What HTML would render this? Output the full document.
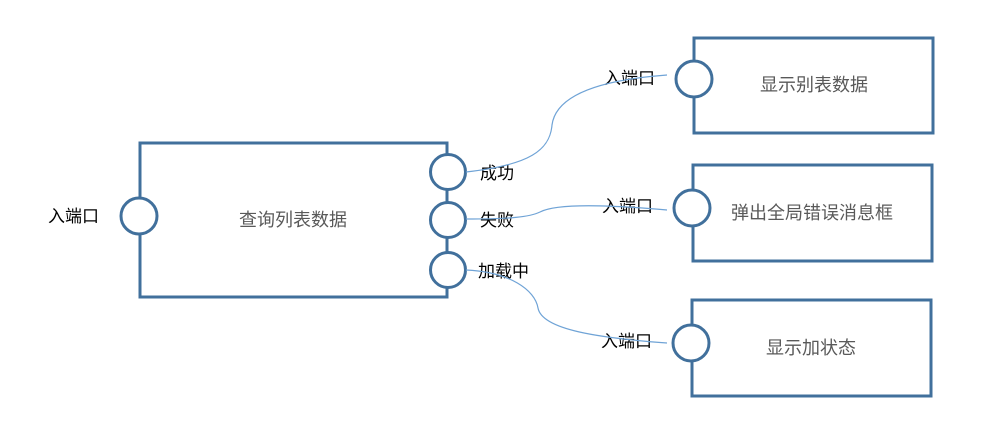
<!DOCTYPE html>
<html><head><meta charset="utf-8"><style>
html,body{margin:0;padding:0;background:#fff;}
svg{display:block}
.p{font-family:"Liberation Sans","Noto Sans CJK SC",sans-serif;font-size:17px;fill:#000}
.b{font-family:"Liberation Sans","Noto Sans CJK SC",sans-serif;font-size:18px;fill:#595959}
</style></head><body>
<svg width="997" height="442" viewBox="0 0 997 442" xmlns="http://www.w3.org/2000/svg">
<g fill="#fff" stroke="#41709c" stroke-width="3">
<rect x="140" y="143" width="307" height="154"/>
<rect x="694" y="38" width="239" height="95"/>
<rect x="693" y="165" width="239" height="96"/>
<rect x="692" y="300" width="239" height="96"/>
<circle cx="139" cy="216" r="18"/>
<circle cx="448" cy="172" r="17.5"/>
<circle cx="448" cy="220" r="17.5"/>
<circle cx="448" cy="270" r="17.5"/>
<circle cx="694" cy="79" r="18"/>
<circle cx="692" cy="208" r="18"/>
<circle cx="691" cy="343" r="18"/>
</g>
<text class="b" x="293" y="226" text-anchor="middle">查询列表数据</text>
<text class="b" x="814" y="91" text-anchor="middle">显示别表数据</text>
<text class="b" x="812" y="219" text-anchor="middle">弹出全局错误消息框</text>
<text class="b" x="811" y="354" text-anchor="middle">显示加状态</text>
<text class="p" x="48" y="222">入端口</text>
<text class="p" x="480" y="179">成功</text>
<text class="p" x="480" y="226">失败</text>
<text class="p" x="478" y="277">加载中</text>
<text class="p" x="604" y="84">入端口</text>
<text class="p" x="602" y="212">入端口</text>
<text class="p" x="601" y="347">入端口</text>
<g fill="none" stroke="#6fa3d6" stroke-width="1.2">
<path d="M466,172 C530,165 550,150 552,125 C556,95 600,80 667,75"/>
<path d="M466,219 C510,219 530,217 540,212 C555,204 600,204 667,210"/>
<path d="M466,270 C510,272 535,290 538,308 C542,330 600,338 667,343"/>
</g>
</svg>
</body></html>
